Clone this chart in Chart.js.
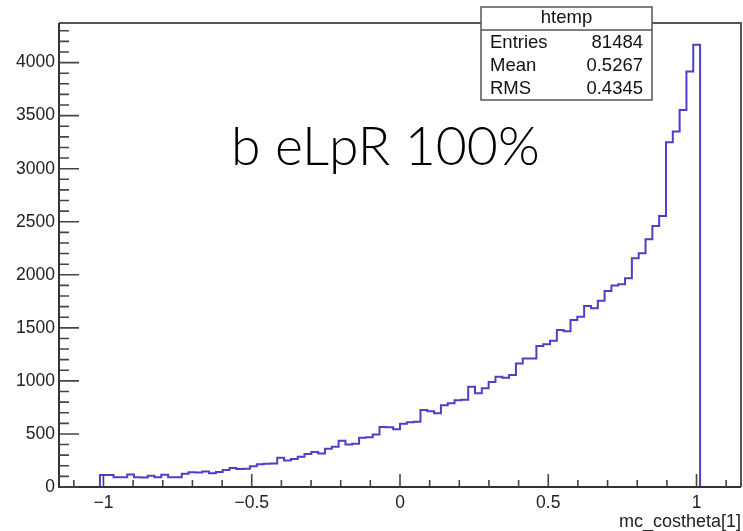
<!DOCTYPE html>
<html>
<head>
<meta charset="utf-8">
<title>mc_costheta[1]</title>
<script src="https://cdn.jsdelivr.net/npm/chart.js@4.4.1/dist/chart.umd.min.js"></script>
<style>
  html, body { margin: 0; padding: 0; background: #fff; }
  canvas { display: block; }
</style>
</head>
<body>
<canvas id="histChart" width="743" height="531"></canvas>
<script>
  // htemp: 100 bins over the axis range
  const xMin = -1.15;
  const xMax = 1.15;
  const binCounts = [
    0, 0, 0, 0, 0, 0, 113, 113, 91, 91,
    118, 93, 90, 106, 92, 115, 93, 92, 125, 138,
    136, 145, 130, 142, 160, 178, 170, 172, 195, 215,
    220, 222, 276, 250, 265, 285, 312, 330, 315, 360,
    380, 435, 400, 408, 465, 470, 495, 565, 562, 545,
    595, 610, 615, 726, 715, 695, 770, 790, 818, 822,
    945, 883, 930, 990, 1040, 1030, 1055, 1165, 1210, 1212,
    1330, 1345, 1378, 1480, 1468, 1574, 1605, 1706, 1685, 1756,
    1848, 1900, 1910, 1967, 2156, 2203, 2335, 2460, 2555, 3250,
    3350, 3554, 3915, 4167, 0, 0, 0, 0, 0, 0
  ];
  const yMaxValue = 4373;

  const xTickLabels = [-1, -0.5, 0, 0.5, 1];
  const yTickLabels = [0, 500, 1000, 1500, 2000, 2500, 3000, 3500, 4000];

  const statsTitle = 'htemp';
  const statsNames = ['Entries', 'Mean', 'RMS'];
  const statsValues = ['81484', '0.5267', '0.4345'];
  const latexText = 'b eLpR 100%';
  const xTitle = 'mc_costheta[1]';

  // step outline: one point per bin low edge, closing point at the upper edge
  const binWidth = (xMax - xMin) / binCounts.length;
  const outline = binCounts.map((c, i) => ({ x: xMin + i * binWidth, y: c }));
  outline.push({ x: xMax, y: binCounts[binCounts.length - 1] });

  const labelFont = '"Liberation Sans", Arial, Helvetica, sans-serif';
  const minus = s => String(s).replace('-', '\u2212');
  const isIn = (list, v) => list.some(t => Math.abs(t - v) < 1e-9);

  // frame, inward tick marks, stats box and the text label
  const rootStyle = {
    id: 'rootStyle',
    afterDatasetsDraw(chart) {
      const ctx = chart.ctx;
      const a = chart.chartArea;
      const xs = chart.scales.x, ys = chart.scales.y;
      ctx.save();
      // frame top/right
      ctx.strokeStyle = '#555';
      ctx.lineWidth = 2;
      ctx.beginPath();
      ctx.moveTo(a.left, a.top);
      ctx.lineTo(a.right, a.top);
      ctx.lineTo(a.right, a.bottom);
      ctx.stroke();
      // axes
      ctx.strokeStyle = '#333';
      ctx.beginPath();
      ctx.moveTo(a.left, a.top);
      ctx.lineTo(a.left, a.bottom);
      ctx.lineTo(a.right, a.bottom);
      ctx.stroke();
      // ticks
      ctx.lineWidth = 1.6;
      ctx.strokeStyle = '#444';
      ctx.beginPath();
      xs.ticks.forEach(t => {
        const px = xs.getPixelForValue(t.value);
        const len = isIn(xTickLabels, t.value) ? 13 : 7;
        ctx.moveTo(px, a.bottom);
        ctx.lineTo(px, a.bottom - len);
      });
      ys.ticks.forEach(t => {
        const py = ys.getPixelForValue(t.value);
        const len = isIn(yTickLabels, t.value) ? 20 : 10;
        ctx.moveTo(a.left, py);
        ctx.lineTo(a.left + len, py);
      });
      ctx.stroke();
      ctx.restore();
    },
    afterDraw(chart) {
      const ctx = chart.ctx;
      ctx.save();
      // stats box
      const bx = 481, by = 7, bw = 171, bh = 93;
      ctx.fillStyle = '#fff';
      ctx.fillRect(bx, by, bw, bh);
      ctx.strokeStyle = '#555';
      ctx.lineWidth = 1.5;
      ctx.strokeRect(bx, by, bw, bh);
      ctx.beginPath();
      ctx.moveTo(bx, 30);
      ctx.lineTo(bx + bw, 30);
      ctx.stroke();
      ctx.fillStyle = '#111';
      ctx.font = '18.5px ' + labelFont;
      ctx.textBaseline = 'middle';
      ctx.textAlign = 'center';
      ctx.fillText(statsTitle, bx + bw / 2, 18);
      statsNames.forEach((n, i) => {
        const y = 43 + i * 22.8;
        ctx.textAlign = 'left';
        ctx.fillText(n, 490, y);
        ctx.textAlign = 'right';
        ctx.fillText(statsValues[i], 643, y);
      });
      // text label
      ctx.font = '300 53.5px Lato, "Open Sans", sans-serif';
      ctx.textAlign = 'left';
      ctx.textBaseline = 'alphabetic';
      ctx.fillStyle = '#000';
      ctx.fillText(latexText, 231, 165);
      ctx.restore();
    }
  };

  const ctx = document.getElementById('histChart').getContext('2d');
  const histChart = new Chart(ctx, {
    type: 'line',
    data: {
      datasets: [{
        label: 'htemp',
        data: outline,
        stepped: true,
        borderColor: 'rgb(76, 64, 198)',
        borderWidth: 2,
        pointRadius: 0,
        fill: false,
        tension: 0
      }]
    },
    options: {
      responsive: false,
      animation: false,
      layout: { padding: { top: 23, right: 2, left: 0, bottom: 0 } },
      plugins: {
        legend: { display: false },
        tooltip: { enabled: false }
      },
      scales: {
        x: {
          type: 'linear',
          min: xMin,
          max: xMax,
          afterBuildTicks: s => {
            const t = [];
            for (let k = -11; k <= 11; k++) t.push({ value: k / 10 });
            s.ticks = t;
          },
          afterFit: s => { s.height = 44; },
          grid: { display: false, drawTicks: false },
          border: { display: false },
          ticks: {
            autoSkip: false,
            maxRotation: 0,
            padding: 6,
            color: '#222',
            font: { family: labelFont, size: 17.5 },
            callback: v => isIn(xTickLabels, v) ? minus(xTickLabels.find(t => Math.abs(t - v) < 1e-9)) : ''
          },
          title: {
            display: true,
            text: xTitle,
            align: 'end',
            color: '#222',
            font: { family: labelFont, size: 18, lineHeight: 1 },
            padding: { top: 0, bottom: 0 }
          }
        },
        y: {
          min: 0,
          max: yMaxValue,
          afterBuildTicks: s => {
            const t = [];
            for (let v = 0; v < yMaxValue; v += 100) t.push({ value: v });
            s.ticks = t;
          },
          afterFit: s => { s.width = 59; },
          grid: { display: false, drawTicks: false },
          border: { display: false },
          ticks: {
            autoSkip: false,
            padding: 4,
            color: '#222',
            font: { family: labelFont, size: 17.5 },
            callback: v => isIn(yTickLabels, v) ? String(v) : ''
          }
        }
      }
    },
    plugins: [rootStyle]
  });
</script>
</body>
</html>
